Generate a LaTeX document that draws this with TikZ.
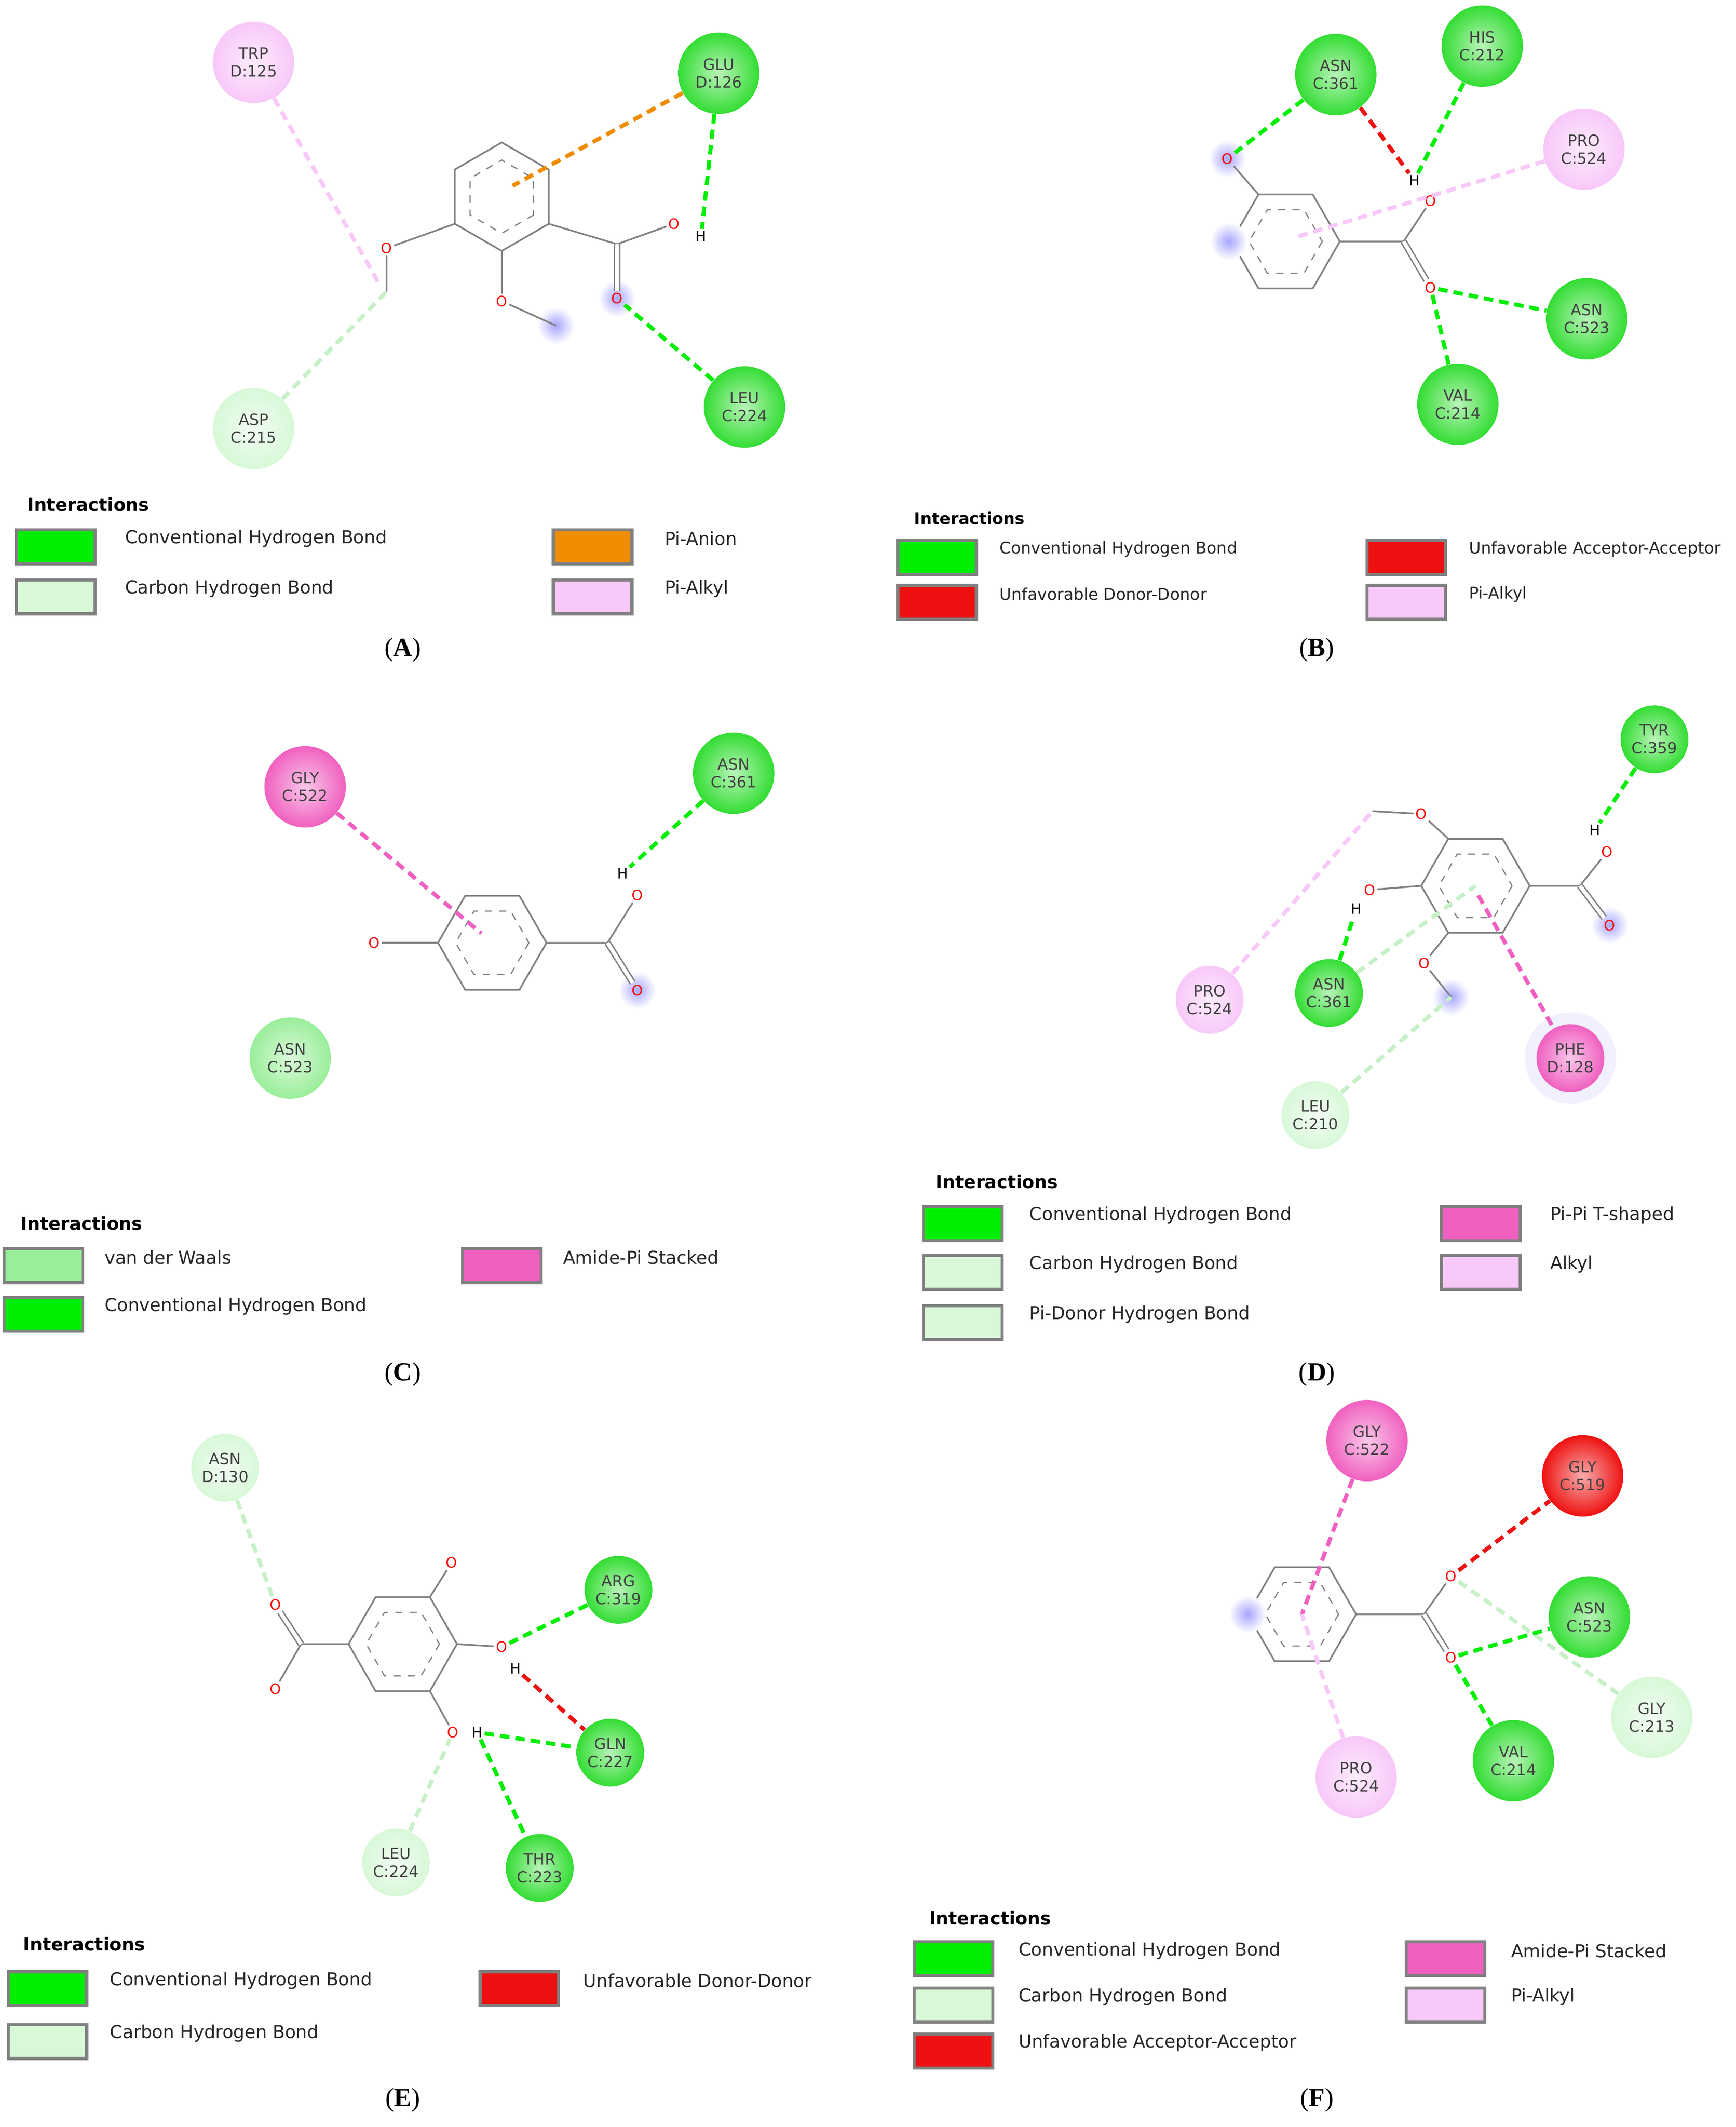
\documentclass[tikz,border=0pt]{standalone}
\usepackage{fontspec}
\setmainfont{DejaVu Sans}
\newfontfamily\capfont{Liberation Serif}
\usetikzlibrary{positioning}
\definecolor{hb}{HTML}{00EE00}
\definecolor{hbres}{HTML}{33DD33}
\definecolor{ch}{HTML}{D8F8D8}
\definecolor{chline}{HTML}{C8F0C8}
\definecolor{vdw}{HTML}{99EE99}
\definecolor{pial}{HTML}{F8C8F8}
\definecolor{amid}{HTML}{F060C0}
\definecolor{pian}{HTML}{F08C00}
\definecolor{unf}{HTML}{EE1111}
\tikzset{
  res/.style={circle, minimum size=1.2cm, inner sep=0pt, align=center,
    font=\fontsize{6.5}{7.5}\selectfont, text=black!75,
    shading=radial, inner color=#1!35!white, outer color=#1},
  bond/.style={gray, line width=0.7pt},
  dbond/.style={gray, double, double distance=1.6pt, line width=0.6pt},
  ox/.style={text=red, font=\fontsize{6}{6}\selectfont, inner sep=0.6pt},
  hy/.style={text=black, font=\fontsize{6}{6}\selectfont, inner sep=0.6pt},
  blob/.style={circle, minimum size=0.55cm, inner sep=0pt,
    shading=radial, inner color=blue!35!white, outer color=white},
  ia/.style={#1, line width=1.7pt, dash pattern=on 4pt off 2.5pt},
  lbox/.style={draw=gray, line width=1.3pt, fill=#1, minimum width=1.16cm, minimum height=0.5cm},
  ltxt/.style={anchor=west, font=\fontsize{7.5}{9}\selectfont, text=black!85},
  ltitle/.style={anchor=west, font=\bfseries\fontsize{7.5}{9}\selectfont},
  plabel/.style={font=\capfont\fontsize{11}{13}\selectfont}
}
\newcommand\benz[4]{% name, x, y, start angle
  \foreach \k in {1,...,6}
    \coordinate (#1-\k) at ([shift={(#2,#3)}]{#4+60*\k}:40);
  \draw[gray, line width=0.7pt] (#1-1) -- (#1-2) -- (#1-3) -- (#1-4) -- (#1-5) -- (#1-6) -- cycle;
  \draw[gray, dashed, line width=0.5pt] ([shift={(#2,#3)}]#4:27)
    \foreach \k in {1,...,6} { -- ([shift={(#2,#3)}]{#4+60*\k}:27) };
  \coordinate (#1-c) at (#2,#3);
}
\begin{document}
\begin{tikzpicture}[x=0.02cm, y=-0.02cm]
\useasboundingbox[fill=white] (0,0) rectangle (1280,1568);

% ---------- panel A ----------
\benz{a}{370}{145}{30}
\node[ox] (a-o1) at (285,183) {O};
\node[blob] (a-b) at (410,240) {};
\node[ox] (a-o2) at (370,222) {O};
\node[blob] at (455,220) {};
\node[ox] (a-o3) at (455,220) {O};
\node[ox] (a-o4) at (497,165) {O};
\node[hy] (a-h) at (517,174) {H};
\coordinate (a-me) at (285,215);
\coordinate (a-cc) at (455,180);
\draw[bond] (a-2) -- (a-o1) -- (a-me);
\draw[bond] (a-1) -- (a-o2) -- (a-b.center);
\draw[bond] (a-6) -- (a-cc) -- (a-o4);
\draw[dbond] (a-cc) -- (a-o3);
\node[res=pial] (trp) at (187,46) {TRP\\D:125};
\node[res=hbres] (glu) at (530,54) {GLU\\D:126};
\node[res=ch] (asp) at (187,316) {ASP\\C:215};
\node[res=hbres] (leu) at (549,300) {LEU\\C:224};
\draw[ia=pial] (trp) -- (280,210);
\draw[ia=chline] (asp) -- (a-me);
\draw[ia=pian] (glu) -- (378,137);
\draw[ia=hb] (glu) -- (a-h);
\draw[ia=hb] (leu) -- (a-o3);
\node[ltitle] at (14,372) {Interactions};
\node[lbox=hb] (la1) at (41,403) {};
\node[lbox=ch] (la2) at (41,440) {};
\node[lbox=pian] (la3) at (437,403) {};
\node[lbox=pial] (la4) at (437,440) {};
\node[ltxt] at (86,397) {Conventional Hydrogen Bond};
\node[ltxt] at (86,434) {Carbon Hydrogen Bond};
\node[ltxt] at (484,397) {Pi-Anion};
\node[ltxt] at (484,434) {Pi-Alkyl};
\node[plabel] at (297,479) {(\textbf{A})};

% ---------- panel B ----------
\benz{b}{948}{178}{0}
\node[blob] at (905,117) {};
\node[blob] at (906,178) {};
\node[ox] (b-o1) at (905,117) {O};
\node[ox] (b-o2) at (1055,148) {O};
\node[ox] (b-o3) at (1055,212) {O};
\node[hy] (b-h) at (1043,133) {H};
\coordinate (b-cc) at (1035,178);
\draw[bond] (b-4) -- (b-o1);
\draw[bond] (b-6) -- (b-cc) -- (b-o2);
\draw[dbond] (b-cc) -- (b-o3);
\node[res=hbres] (asnb) at (985,55) {ASN\\C:361};
\node[res=hbres] (his) at (1093,34) {HIS\\C:212};
\node[res=pial] (prob) at (1168,110) {PRO\\C:524};
\node[res=hbres] (asnb2) at (1170,235) {ASN\\C:523};
\node[res=hbres] (valb) at (1075,298) {VAL\\C:214};
\draw[ia=hb] (asnb) -- (b-o1);
\draw[ia=unf] (asnb) -- (b-h);
\draw[ia=hb] (his) -- (b-h);
\draw[ia=pial] (prob) -- (955,175);
\draw[ia=hb] (b-o3) -- (asnb2);
\draw[ia=hb] (b-o3) -- (valb);
\node[ltitle, font=\bfseries\fontsize{6.8}{8}\selectfont] at (668,382) {Interactions};
\node[lbox=hb] at (691,411) {};
\node[lbox=unf] at (691,444) {};
\node[lbox=unf] at (1037,411) {};
\node[lbox=pial] at (1037,444) {};
\node[ltxt, font=\fontsize{6.8}{8}\selectfont] at (731,405) {Conventional Hydrogen Bond};
\node[ltxt, font=\fontsize{6.8}{8}\selectfont] at (731,438) {Unfavorable Donor-Donor};
\node[ltxt, font=\fontsize{6.8}{8}\selectfont] at (1077,405) {Unfavorable Acceptor-Acceptor};
\node[ltxt, font=\fontsize{6.8}{8}\selectfont] at (1077,438) {Pi-Alkyl};
\node[plabel] at (971,479) {(\textbf{B})};

% ---------- panel C ----------
\benz{c}{363}{695}{0}
\node[ox] (c-o1) at (276,695) {O};
\node[ox] (c-o2) at (470,660) {O};
\node[hy] (c-h) at (459,644) {H};
\node[blob] at (470,730) {};
\node[ox] (c-o3) at (470,730) {O};
\coordinate (c-cc) at (448,695);
\draw[bond] (c-3) -- (c-o1);
\draw[bond] (c-6) -- (c-cc) -- (c-o2);
\draw[dbond] (c-cc) -- (c-o3);
\node[res=amid] (glyc) at (225,580) {GLY\\C:522};
\node[res=hbres] (asnc) at (541,570) {ASN\\C:361};
\node[res=vdw] (asnc2) at (214,780) {ASN\\C:523};
\draw[ia=amid] (glyc) -- (355,688);
\draw[ia=hb] (asnc) -- (c-h);
\node[ltitle] at (9,902) {Interactions};
\node[lbox=vdw] at (32,933) {};
\node[lbox=hb] at (32,969) {};
\node[lbox=amid] at (370,933) {};
\node[ltxt] at (71,927) {van der Waals};
\node[ltxt] at (71,963) {Conventional Hydrogen Bond};
\node[ltxt] at (409,927) {Amide-Pi Stacked};
\node[plabel] at (297,1013) {(\textbf{C})};

% ---------- panel D ----------
\benz{d}{1088}{653}{0}
\node[ox] (d-o1) at (1048,600) {O};
\node[ox] (d-o2) at (1010,656) {O};
\node[hy] (d-h1) at (1000,670) {H};
\node[ox] (d-o3) at (1050,710) {O};
\node[blob] (d-b) at (1070,735) {};
\node[ox] (d-o4) at (1185,628) {O};
\node[hy] (d-h2) at (1176,612) {H};
\node[blob] at (1187,682) {};
\node[ox] (d-o5) at (1187,682) {O};
\coordinate (d-me) at (1012,598);
\coordinate (d-cc) at (1165,653);
\draw[bond] (d-4) -- (d-o1) -- (d-me);
\draw[bond] (d-3) -- (d-o2);
\draw[bond] (d-2) -- (d-o3) -- (d-b.center);
\draw[bond] (d-6) -- (d-cc) -- (d-o4);
\draw[dbond] (d-cc) -- (d-o5);
\node[res=hbres, minimum size=1cm] (tyr) at (1220,545) {TYR\\C:359};
\node[res=pial, minimum size=1cm] (prod) at (892,737) {PRO\\C:524};
\node[res=hbres, minimum size=1cm] (asnd) at (980,732) {ASN\\C:361};
\node[circle, minimum size=1.35cm, fill=blue!6] at (1158,780) {};
\node[res=amid, minimum size=1cm] (phe) at (1158,780) {PHE\\D:128};
\node[res=ch, minimum size=1cm] (leud) at (970,822) {LEU\\C:210};
\draw[ia=hb] (tyr) -- (d-h2);
\draw[ia=hb] (asnd) -- (d-h1);
\draw[ia=pial] (prod) -- (d-me);
\draw[ia=chline] (asnd) -- (d-c);
\draw[ia=amid] (1090,660) -- (phe);
\draw[ia=chline] (leud) -- (d-b.center);
\node[ltitle] at (684,871) {Interactions};
\node[lbox=hb] at (710,902) {};
\node[lbox=ch] at (710,938) {};
\node[lbox=ch] at (710,975) {};
\node[lbox=amid] at (1092,902) {};
\node[lbox=pial] at (1092,938) {};
\node[ltxt] at (753,896) {Conventional Hydrogen Bond};
\node[ltxt] at (753,932) {Carbon Hydrogen Bond};
\node[ltxt] at (753,969) {Pi-Donor Hydrogen Bond};
\node[ltxt] at (1137,896) {Pi-Pi T-shaped};
\node[ltxt] at (1137,932) {Alkyl};
\node[plabel] at (971,1013) {(\textbf{D})};

% ---------- panel E ----------
\benz{e}{297}{1212}{0}
\node[ox] (e-o1) at (333,1152) {O};
\node[ox] (e-o2) at (370,1214) {O};
\node[hy] (e-h1) at (380,1230) {H};
\node[ox] (e-o3) at (334,1277) {O};
\node[hy] (e-h2) at (352,1277) {H};
\node[ox] (e-o4) at (203,1183) {O};
\node[ox] (e-o5) at (203,1245) {O};
\coordinate (e-cc) at (222,1212);
\draw[bond] (e-5) -- (e-o1);
\draw[bond] (e-6) -- (e-o2);
\draw[bond] (e-1) -- (e-o3);
\draw[bond] (e-3) -- (e-cc) -- (e-o5);
\draw[dbond] (e-cc) -- (e-o4);
\node[res=ch, minimum size=1cm] (asne) at (166,1082) {ASN\\D:130};
\node[res=hbres, minimum size=1cm] (arg) at (456,1172) {ARG\\C:319};
\node[res=hbres, minimum size=1cm] (gln) at (450,1292) {GLN\\C:227};
\node[res=hbres, minimum size=1cm] (thr) at (398,1377) {THR\\C:223};
\node[res=ch, minimum size=1cm] (leue) at (292,1373) {LEU\\C:224};
\draw[ia=chline] (asne) -- (e-o4);
\draw[ia=hb] (e-o2) -- (arg);
\draw[ia=unf] (e-h1) -- (gln);
\draw[ia=hb] (e-h2) -- (gln);
\draw[ia=hb] (e-h2) -- (thr);
\draw[ia=chline] (leue) -- (e-o3);
\node[ltitle] at (11,1433) {Interactions};
\node[lbox=hb] at (35,1466) {};
\node[lbox=ch] at (35,1505) {};
\node[lbox=unf] at (383,1466) {};
\node[ltxt] at (75,1460) {Conventional Hydrogen Bond};
\node[ltxt] at (75,1499) {Carbon Hydrogen Bond};
\node[ltxt] at (424,1460) {Unfavorable Donor-Donor};
\node[plabel] at (297,1548) {(\textbf{E})};

% ---------- panel F ----------
\benz{f}{960}{1190}{0}
\node[blob] at (920,1190) {};
\node[ox] (f-o1) at (1070,1162) {O};
\node[ox] (f-o2) at (1070,1222) {O};
\coordinate (f-cc) at (1050,1190);
\draw[bond] (f-6) -- (f-cc) -- (f-o1);
\draw[dbond] (f-cc) -- (f-o2);
\node[res=amid] (glyf) at (1008,1062) {GLY\\C:522};
\node[res=unf] (gly519) at (1167,1088) {GLY\\C:519};
\node[res=hbres] (asnf) at (1172,1192) {ASN\\C:523};
\node[res=ch] (gly213) at (1218,1266) {GLY\\C:213};
\node[res=hbres] (valf) at (1116,1298) {VAL\\C:214};
\node[res=pial] (prof) at (1000,1310) {PRO\\C:524};
\draw[ia=amid] (glyf) -- (f-c);
\draw[ia=pial] (prof) -- (f-c);
\draw[ia=unf] (f-o1) -- (gly519);
\draw[ia=chline] (f-o1) -- (gly213);
\draw[ia=hb] (f-o2) -- (asnf);
\draw[ia=hb] (f-o2) -- (valf);
\node[ltitle] at (679,1414) {Interactions};
\node[lbox=hb] at (703,1444) {};
\node[lbox=ch] at (703,1478) {};
\node[lbox=unf] at (703,1512) {};
\node[lbox=amid] at (1066,1444) {};
\node[lbox=pial] at (1066,1478) {};
\node[ltxt] at (745,1438) {Conventional Hydrogen Bond};
\node[ltxt] at (745,1472) {Carbon Hydrogen Bond};
\node[ltxt] at (745,1506) {Unfavorable Acceptor-Acceptor};
\node[ltxt] at (1108,1438) {Amide-Pi Stacked};
\node[ltxt] at (1108,1472) {Pi-Alkyl};
\node[plabel] at (971,1548) {(\textbf{F})};
\end{tikzpicture}
\end{document}
